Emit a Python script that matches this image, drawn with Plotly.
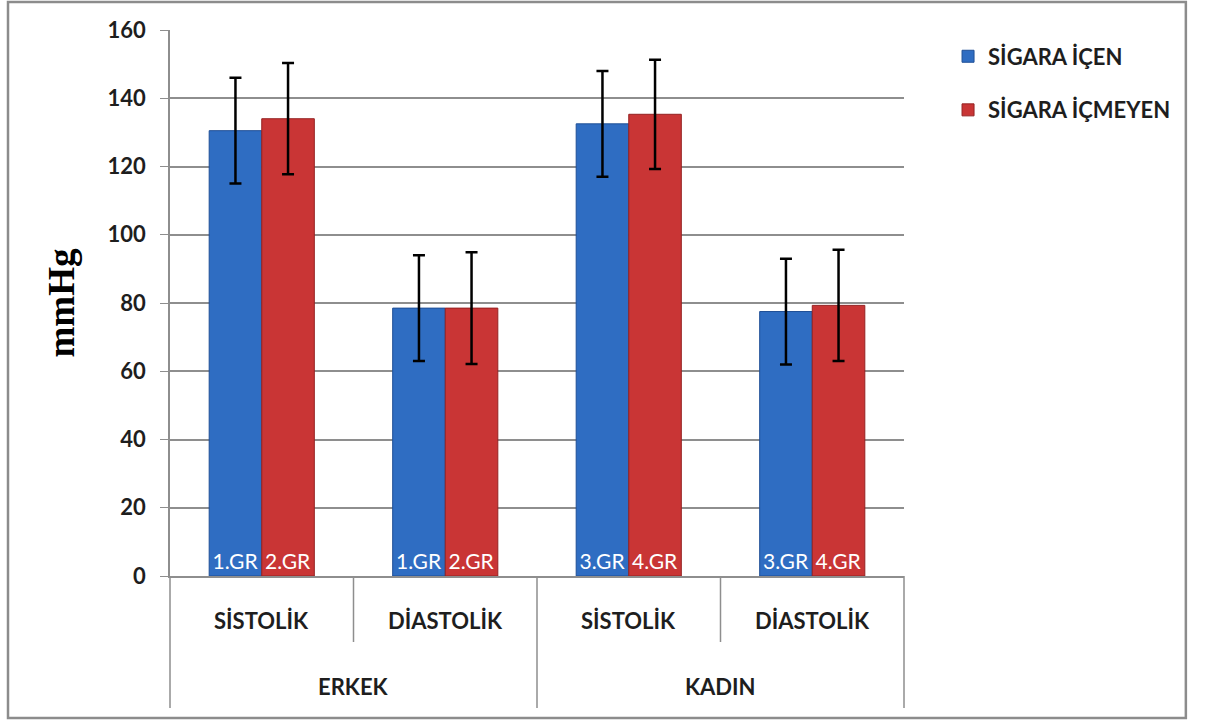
import plotly.graph_objects as go

groups = ["ERKEK", "ERKEK", "KADIN", "KADIN"]
measures = ["SİSTOLİK", "DİASTOLİK", "SİSTOLİK", "DİASTOLİK"]
group_names = ["ERKEK", "KADIN"]
smoker = [130.5, 78.5, 132.5, 77.5]
smoker_sd = [15.5, 15.5, 15.5, 15.5]
nonsmoker = [134.0, 78.5, 135.3, 79.3]
nonsmoker_sd = [16.3, 16.4, 16.0, 16.3]
smoker_labels = ["1.GR", "1.GR", "3.GR", "3.GR"]
nonsmoker_labels = ["2.GR", "2.GR", "4.GR", "4.GR"]
y_ticks = [0, 20, 40, 60, 80, 100, 120, 140, 160]

FONT = "Lato"
GRID = "#8e8e8e"
TXT = "#1e1e1e"

fig = go.Figure()
fig.add_trace(go.Bar(
    name="SİGARA İÇEN", x=[groups, measures], y=smoker,
    error_y=dict(type="data", array=smoker_sd, color="black", thickness=2.5, width=6),
    marker=dict(color="#2f6dc2", line=dict(color="#1f4f96", width=1)),
    text=smoker_labels, textposition="inside", insidetextanchor="start", textangle=0,
    textfont=dict(color="white", size=21, family=FONT),
    legendgroup="a",
))
fig.add_trace(go.Bar(
    name="SİGARA İÇMEYEN", x=[groups, measures], y=nonsmoker,
    error_y=dict(type="data", array=nonsmoker_sd, color="black", thickness=2.5, width=6),
    marker=dict(color="#c93535", line=dict(color="#952222", width=1)),
    text=nonsmoker_labels, textposition="inside", insidetextanchor="start", textangle=0,
    textfont=dict(color="white", size=21, family=FONT),
    legendgroup="b",
))

fig.update_layout(
    width=1207, height=723,
    margin=dict(l=170, r=303, t=30, b=147),
    paper_bgcolor="white", plot_bgcolor="white",
    barmode="group", bargap=0.427, bargroupgap=0,
    font=dict(family=FONT, color=TXT, size=17),
    showlegend=True,
    legend=dict(x=1.06, y=0.99, xanchor="left", yanchor="top",
                font=dict(family=FONT, size=22, weight="bold", color=TXT),
                tracegroupgap=22, bgcolor="rgba(0,0,0,0)"),
    yaxis=dict(range=[0, 160], tickvals=y_ticks, showgrid=True, gridcolor=GRID, gridwidth=1.5,
               showline=True, linecolor=GRID, linewidth=1.5,
               ticks="outside", ticklen=8, tickcolor=GRID, ticklabelstandoff=10,
               tickfont=dict(family=FONT, size=22, weight="bold", color=TXT),
               title=dict(text="mmHg", font=dict(family="Liberation Serif", size=37, weight="bold", color="black"), standoff=22),
               zeroline=False),
    xaxis=dict(type="multicategory", showline=True, linecolor=GRID, linewidth=1.5,
               showticklabels=False, showdividers=False, ticks=""),
)

# category labels (two levels) below the axis
n = len(measures)
for i, m in enumerate(measures):
    fig.add_annotation(text=m, xref="paper", yref="paper", x=(i + 0.5) / n, y=-0.0806,
                       xanchor="center", yanchor="middle", showarrow=False,
                       font=dict(family=FONT, size=22, weight="bold", color=TXT))
for j, g in enumerate(group_names):
    fig.add_annotation(text=g, xref="paper", yref="paper", x=(j + 0.5) / len(group_names), y=-0.2015,
                       xanchor="center", yanchor="middle", showarrow=False,
                       font=dict(family=FONT, size=22, weight="bold", color=TXT))

# dividers
for k in range(n + 1):
    long = (k % 2 == 0)
    fig.add_shape(type="line", xref="paper", yref="paper", x0=k / n, x1=k / n,
                  y0=0, y1=-0.2418 if long else -0.1209, line=dict(color=GRID, width=1.5))

# outer frame
fig.add_shape(type="rect", xref="paper", yref="paper",
              x0=-0.2207, x1=1.384, y0=-0.26, y1=1.0513,
              line=dict(color="#8c8c8c", width=2.5), fillcolor="rgba(0,0,0,0)", layer="below")

fig.write_html("out.html", config={"displayModeBar": False},
               post_script="document.body.style.margin='0px';")
